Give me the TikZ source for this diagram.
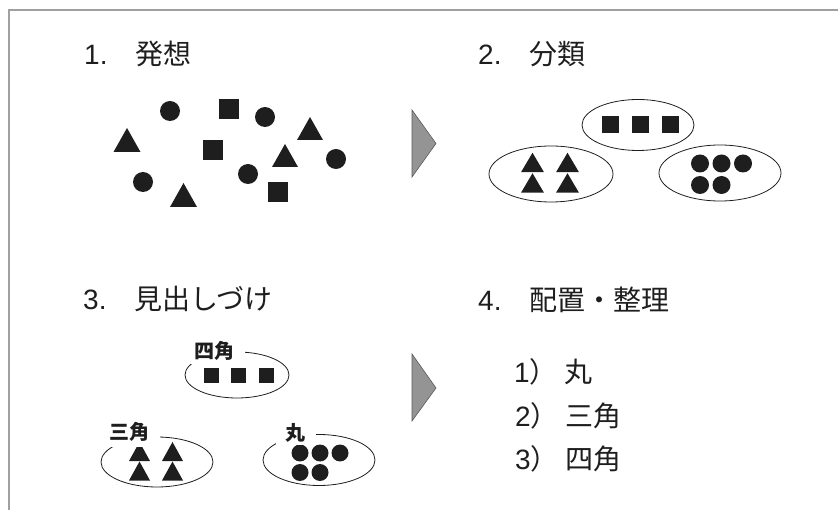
\documentclass[tikz,border=0pt]{standalone}
\usepackage{fontspec}
\setmainfont{Noto Sans CJK JP}
\newfontfamily\latin{Liberation Sans}
\definecolor{framecol}{RGB}{160,160,160}
\definecolor{ink}{RGB}{30,30,30}
\newcommand\mytri[4]{\fill[shp] (#1-#3/2,#2+#4/2) -- (#1,#2-#4/2) -- (#1+#3/2,#2+#4/2) -- cycle;}
\begin{document}
\begin{tikzpicture}[x=1pt,y=-1pt,
  shp/.style={fill=ink},
  grp/.style={draw=ink,line width=0.8pt},
  title/.style={anchor=base west,font=\fontsize{28}{30}\selectfont,inner sep=0pt,text=ink},
  tag/.style={fill=white,font=\bfseries\fontsize{20}{22}\selectfont,inner xsep=10pt,inner ysep=3pt,text=ink},
  flow/.style={fill=black!42,draw=black!65,line width=0.6pt,line join=miter}]
\useasboundingbox (0,0) rectangle (838,510);
% frame
\draw[framecol,line width=2pt] (838,10) -- (9,10) -- (9,510);
% titles
\node[title] (t1) at (84,65) {{\latin 1.}　発想};
\node[title] (t2) at (478,65) {{\latin 2.}　分類};
\node[title] (t3) at (83,310) {{\latin 3.}　見出しづけ};
\node[title] (t4) at (478,311) {{\latin 4.}　配置・整理};
% list
\node[title] (l1) at (514,383) {{\latin 1}）\hspace{7pt}丸};
\node[title] (l2) at (515,426) {{\latin 2}）\hspace{7pt}三角};
\node[title] (l3) at (515,469) {{\latin 3}）\hspace{7pt}四角};
% chevrons
\draw[flow] (412,110) -- (436,143.5) -- (412,177) -- cycle;
\draw[flow] (412,354) -- (436,388) -- (412,421) -- cycle;
% panel 1 scattered shapes
\fill[shp] (170,111) circle[radius=10pt];
\fill[shp] (219,99) rectangle (239,119);
\fill[shp] (265,117) circle[radius=10pt];
\mytri{310}{128.5}{26}{23}
\mytri{127}{140}{27}{24}
\fill[shp] (203,140) rectangle (223,160);
\mytri{285}{155.5}{26}{23}
\fill[shp] (336,159) circle[radius=10pt];
\fill[shp] (143,182) circle[radius=10pt];
\fill[shp] (248,174) circle[radius=10pt];
\mytri{183.5}{195}{27}{24}
\fill[shp] (268,182) rectangle (288,202);
% panel 2 groups
\draw[grp] (638,125) ellipse[x radius=56pt,y radius=25.5pt];
\fill[shp] (601.5,116.5) rectangle (618.5,133.5);
\fill[shp] (631.5,116.5) rectangle (648.5,133.5);
\fill[shp] (661.5,116.5) rectangle (678.5,133.5);
\draw[grp] (551,174) ellipse[x radius=62pt,y radius=28pt];
\mytri{532.5}{162.5}{23}{19.5}
\mytri{567.5}{162.5}{23}{19.5}
\mytri{532.5}{183}{23}{19.5}
\mytri{567.5}{183}{23}{19.5}
\draw[grp] (720,173) ellipse[x radius=61pt,y radius=28pt];
\fill[shp] (700,163.5) circle[radius=9pt];
\fill[shp] (721.5,163.5) circle[radius=9pt];
\fill[shp] (743,163.5) circle[radius=9pt];
\fill[shp] (700,185) circle[radius=9pt];
\fill[shp] (721.5,185) circle[radius=9pt];
% panel 3 labelled groups
\draw[grp] (237,375) ellipse[x radius=52pt,y radius=23pt];
\fill[shp] (203.5,368) rectangle (218.5,383);
\fill[shp] (231,368) rectangle (246,383);
\fill[shp] (258.5,368) rectangle (273.5,383);
\draw[grp] (157,462) ellipse[x radius=56pt,y radius=25pt];
\mytri{139.5}{451.5}{21}{19}
\mytri{172.5}{451.5}{21}{19}
\mytri{139.5}{471}{21}{19}
\mytri{172.5}{471}{21}{19}
\draw[grp] (319,460) ellipse[x radius=56pt,y radius=25.5pt];
\fill[shp] (300,453) circle[radius=8.5pt];
\fill[shp] (320,453) circle[radius=8.5pt];
\fill[shp] (340,453) circle[radius=8.5pt];
\fill[shp] (300,472.5) circle[radius=8.5pt];
\fill[shp] (320,472.5) circle[radius=8.5pt];
\node[tag] (g4) at (214.5,351) {四角};
\node[tag,inner ysep=6pt] (g3) at (129.5,431.5) {三角};
\node[tag] (g1) at (295.5,433) {丸};
\end{tikzpicture}
\end{document}
